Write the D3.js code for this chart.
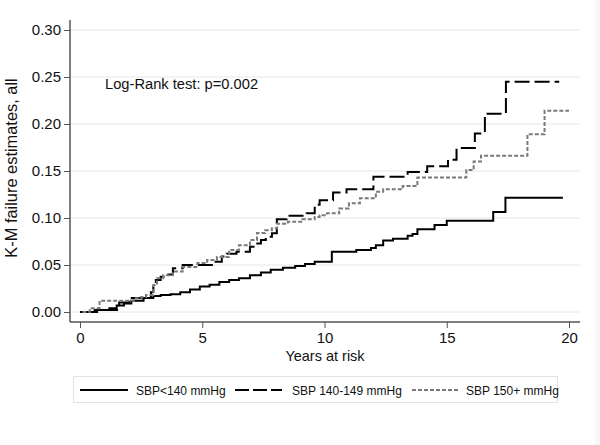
<!DOCTYPE html>
<html>
<head>
<meta charset="utf-8">
<script src="https://cdn.jsdelivr.net/npm/d3@7"></script>
<style>
  html, body { margin: 0; padding: 0; background: #fff; }
  svg { display: block; font-family: "Liberation Sans", Arial, sans-serif; }
</style>
</head>
<body>
<svg id="chart" width="600" height="445"></svg>
<script>
// ---- data ----
const seriesNames = ["SBP<140 mmHg", "SBP 140-149 mmHg", "SBP 150+ mmHg"];

const sbpLow_t = [0, 0.6, 1.2, 1.5, 1.8, 2.1, 2.6, 3.0, 3.3, 3.7, 4.1, 4.5, 4.9, 5.3, 5.7, 6.1, 6.5, 6.95, 7.4, 7.8, 8.3, 8.8, 9.2, 9.6, 10.3, 11.3, 11.9, 12.1, 12.4, 12.8, 13.4, 13.6, 13.8, 14.5, 15.0, 16.9, 17.4, 19.75];
const sbpLow_v = [0, 0.002, 0.004, 0.007, 0.009, 0.012, 0.015, 0.017, 0.018, 0.019, 0.021, 0.024, 0.027, 0.029, 0.032, 0.034, 0.036, 0.039, 0.042, 0.045, 0.047, 0.049, 0.051, 0.0535, 0.064, 0.066, 0.068, 0.071, 0.076, 0.078, 0.081, 0.083, 0.088, 0.0925, 0.097, 0.1065, 0.1215, 0.1215];

const sbpMid_t = [0.2, 0.7, 1.6, 2.0, 2.9, 3.0, 3.1, 3.3, 3.5, 3.8, 4.2, 5.5, 5.8, 6.0, 6.4, 6.95, 7.2, 7.4, 7.6, 7.85, 8.05, 8.45, 9.27, 9.6, 9.8, 10.35, 10.9, 12.0, 13.4, 14.2, 15.05, 15.4, 16.15, 16.56, 17.42, 19.6];
const sbpMid_v = [0, 0.002, 0.010, 0.015, 0.021, 0.029, 0.034, 0.0376, 0.040, 0.0465, 0.050, 0.0535, 0.059, 0.062, 0.064, 0.0695, 0.073, 0.0766, 0.080, 0.0837, 0.0986, 0.1025, 0.105, 0.114, 0.119, 0.127, 0.1305, 0.144, 0.149, 0.155, 0.162, 0.1745, 0.190, 0.211, 0.245, 0.245];

const sbpHigh_t = [0.1, 0.4, 0.8, 2.2, 2.5, 2.7, 3.0, 3.15, 3.4, 3.8, 4.2, 4.8, 5.2, 5.6, 6.1, 6.5, 6.95, 7.24, 7.57, 7.85, 8.06, 8.5, 9.1, 9.6, 9.8, 10.1, 10.6, 11.0, 11.45, 12.1, 12.4, 13.2, 13.8, 15.8, 16.1, 16.4, 18.3, 19.0, 20.0];
const sbpHigh_v = [0, 0.004, 0.012, 0.0145, 0.016, 0.018, 0.0287, 0.036, 0.039, 0.043, 0.048, 0.052, 0.0553, 0.0585, 0.066, 0.071, 0.0766, 0.084, 0.087, 0.089, 0.094, 0.096, 0.0986, 0.101, 0.103, 0.105, 0.110, 0.1156, 0.121, 0.128, 0.1305, 0.134, 0.143, 0.151, 0.160, 0.1663, 0.189, 0.214, 0.214];

const xTicks = [0, 5, 10, 15, 20];
const yTicks = [0, 0.05, 0.10, 0.15, 0.20, 0.25, 0.30];
const annotation = "Log-Rank test: p=0.002";
const xTitle = "Years at risk";
const yTitle = "K-M failure estimates, all";

// ---- layout ----
const svg = d3.select("#chart");
const x = d3.scaleLinear().domain([0, 20]).range([80, 569]);
const y = d3.scaleLinear().domain([0, 0.30]).range([312, 30]);
const plotLeft = 70, plotRight = 580, plotTop = 20, plotBottom = 322;

// faint right edge band
svg.append("rect").attr("x", 595).attr("y", 0).attr("width", 5).attr("height", 445).attr("fill", "#f6f6f6");

// gridlines
svg.append("g").selectAll("line").data(yTicks).join("line")
  .attr("x1", plotLeft).attr("x2", plotRight)
  .attr("y1", d => y(d)).attr("y2", d => y(d))
  .attr("stroke", "#e6e6e6").attr("stroke-width", 1);

// axes
const yAxis = d3.axisLeft(y).tickValues(yTicks).tickFormat(d3.format(".2f")).tickSize(6).tickPadding(3);
const gy = svg.append("g").attr("transform", `translate(${plotLeft},0)`).call(yAxis);
gy.select(".domain").attr("d", `M0,${plotTop}V${plotBottom}`);

const xAxis = d3.axisBottom(x).tickValues(xTicks).tickFormat(d3.format("d")).tickSize(6).tickPadding(4);
const gx = svg.append("g").attr("transform", `translate(0,${plotBottom})`).call(xAxis);
gx.select(".domain").attr("d", `M${plotLeft},0H${plotRight}`);

[gx, gy].forEach(g => {
  g.select(".domain").attr("stroke", "#555").attr("stroke-width", 1.5);
  g.selectAll(".tick line").attr("stroke", "#555").attr("stroke-width", 1);
  g.selectAll(".tick text").attr("fill", "#111").style("font-size", "15px")
    .style("font-family", "'Liberation Sans', Arial, sans-serif");
});

// axis titles
svg.append("text").attr("x", 325).attr("y", 361).attr("text-anchor", "middle")
  .style("font-size", "14.5px").attr("fill", "#111").text(xTitle);
svg.append("text").attr("transform", "translate(17,168) rotate(-90)").attr("text-anchor", "middle")
  .style("font-size", "16.4px").attr("fill", "#111").text(yTitle);

// annotation
svg.append("text").attr("x", 105).attr("y", 89).style("font-size", "14.7px").attr("fill", "#111").text(annotation);

// curves
const styles = [
  { t: sbpLow_t, v: sbpLow_v, stroke: "#000", dash: null, w: 2 },
  { t: sbpMid_t, v: sbpMid_v, stroke: "#000", dash: "15,5", w: 2 },
  { t: sbpHigh_t, v: sbpHigh_v, stroke: "#7a7a7a", dash: "4,2", w: 2 }
];
const line = d3.line().x(d => x(d[0])).y(d => y(d[1])).curve(d3.curveStepAfter);
styles.forEach(s => {
  const pts = s.t.map((t, i) => [t, s.v[i]]);
  svg.append("path").attr("d", line(pts)).attr("fill", "none")
    .attr("stroke", s.stroke).attr("stroke-width", s.w)
    .attr("stroke-dasharray", s.dash);
});

// legend
svg.append("rect").attr("x", 73.5).attr("y", 376.5).attr("width", 484).attr("height", 26)
  .attr("fill", "#fff").attr("stroke", "#e2e2e2").attr("stroke-width", 1);
const legendPos = [{ x1: 80, x2: 128, tx: 136 }, { x1: 235, x2: 282, tx: 292 }, { x1: 412, x2: 458, tx: 466 }];
const legendDash = [null, "14,4", "4,2"];
legendPos.forEach((p, i) => {
  svg.append("line").attr("x1", p.x1).attr("x2", p.x2).attr("y1", 390).attr("y2", 390)
    .attr("stroke", styles[i].stroke).attr("stroke-width", 2).attr("stroke-dasharray", legendDash[i]);
  svg.append("text").attr("x", p.tx).attr("y", 395.3).style("font-size", "12px").attr("fill", "#111")
    .text(seriesNames[i]);
});
</script>
</body>
</html>
